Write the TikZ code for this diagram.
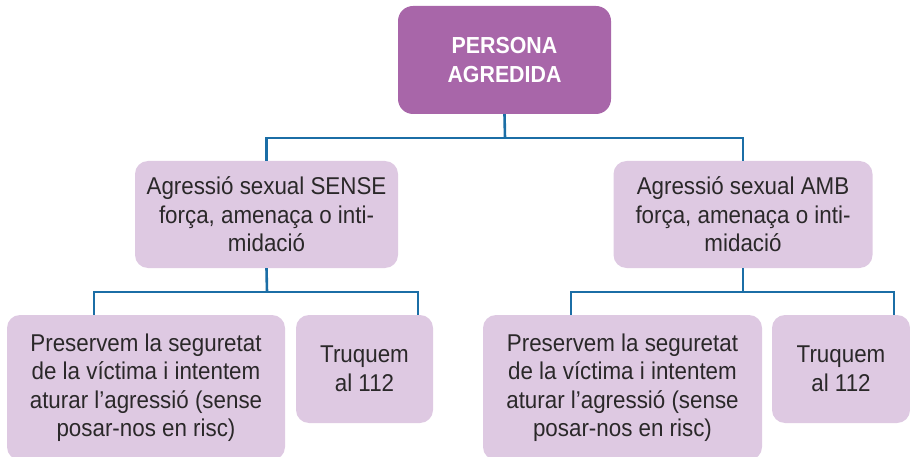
\documentclass[tikz,border=0pt]{standalone}
\usepackage{fontspec}
\setmainfont{Liberation Sans}[FakeStretch=0.92]
\definecolor{topfill}{HTML}{A866A9}
\definecolor{boxfill}{HTML}{DEC9E2}
\definecolor{linecol}{HTML}{1B6EA6}
\definecolor{txt}{HTML}{2A2829}
\begin{document}
\begin{tikzpicture}[x=1pt,y=-1pt,
  box/.style={rounded corners=13pt, fill=boxfill, draw=none, inner sep=0pt, align=center,
    text=txt, font=\fontsize{24.3pt}{28.5pt}\selectfont},
  topbox/.style={rounded corners=15pt, fill=topfill, draw=none, inner sep=0pt, align=center,
    text=white, font=\fontsize{23.2pt}{29pt}\selectfont\bfseries},
  conn/.style={draw=linecol, line width=2.6pt, line join=miter}]
\useasboundingbox (0,0) rectangle (910,457);
\clip (0,0) rectangle (910,457);
\node[topbox, minimum width=213pt, minimum height=108pt] (top) at (504.5,60) {PERSONA\\AGREDIDA};
\node[box, minimum width=263pt, minimum height=107pt] (midL) at (266.5,214.5) {Agressió sexual SENSE\\força, amenaça o inti-\\midació};
\node[box, minimum width=259pt, minimum height=107pt] (midR) at (743,214.5) {Agressió sexual AMB\\força, amenaça o inti-\\midació};
\node[box, minimum width=278pt, minimum height=145pt] (LL) at (146,387.5) {Preservem la seguretat\\de la víctima i intentem\\aturar l’agressió (sense\\posar-nos en risc)};
\node[box, minimum width=137pt, minimum height=108pt] (LR) at (364.5,369) {Truquem\\al 112};
\node[box, minimum width=279pt, minimum height=145pt] (RL) at (622.5,387.5) {Preservem la seguretat\\de la víctima i intentem\\aturar l’agressió (sense\\posar-nos en risc)};
\node[box, minimum width=138pt, minimum height=108pt] (RR) at (841,369) {Truquem\\al 112};
\coordinate (jT) at (505,138);
\coordinate (jL) at (267,292);
\coordinate (jR) at (743,292);
\coordinate (kLL) at (94,0);
\coordinate (kLR) at (418,0);
\coordinate (kRL) at (571,0);
\coordinate (kRR) at (894,0);
\draw[conn] (top.south) -- (jT);
\draw[conn] (midL.north) |- (jT) -| (midR.north);
\draw[conn] (midL.south) -- (jL);
\draw[conn] (LL.north -| kLL) |- (jL) -| (LR.north -| kLR);
\draw[conn] (midR.south) -- (jR);
\draw[conn] (RL.north -| kRL) |- (jR) -| (RR.north -| kRR);
\end{tikzpicture}
\end{document}
